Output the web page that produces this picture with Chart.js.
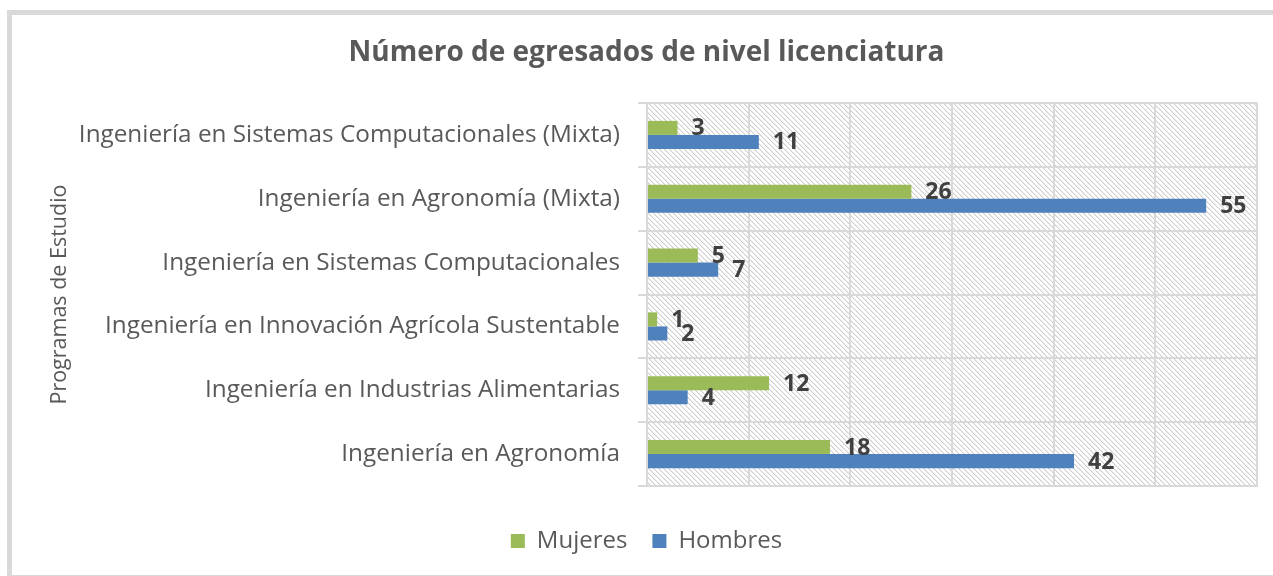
<!DOCTYPE html>
<html>
<head>
<meta charset="utf-8">
<script src="https://cdn.jsdelivr.net/npm/chart.js@4"></script>
<style>
  html, body { margin: 0; padding: 0; background: #fff; overflow: hidden; }
  #frame { position: absolute; left: 7px; top: 10px; width: 1300px; height: 560px; border: 5px solid #d9d9d9; }
  #wrap { position: absolute; left: 0; top: 0; width: 1273px; height: 576px; }
</style>
</head>
<body>
<div id="frame"></div>
<div id="wrap"><canvas id="chart" width="1273" height="576"></canvas></div>
<script>
const programas = [
  "Ingeniería en Sistemas Computacionales (Mixta)",
  "Ingeniería en Agronomía (Mixta)",
  "Ingeniería en Sistemas Computacionales",
  "Ingeniería en Innovación Agrícola Sustentable",
  "Ingeniería en Industrias Alimentarias",
  "Ingeniería en Agronomía",
];
const mujeres = [3, 26, 5, 1, 12, 18];
const hombres = [11, 55, 7, 2, 4, 42];

const GRID = "#d9d9d9";
const FONT = "'Open Sans', 'Noto Sans', sans-serif";

// diagonal hatch for the plot area
function hatchPattern(ctx) {
  const tile = document.createElement("canvas");
  tile.width = 5;
  tile.height = 5;
  const t = tile.getContext("2d");
  t.fillStyle = "#ffffff";
  t.fillRect(0, 0, 5, 5);
  for (let i = 0; i < 5; i++) {
    t.fillStyle = "#cdcdcd";
    t.fillRect(i, i, 1, 1);
    t.fillStyle = "#ededed";
    t.fillRect((i + 1) % 5, i, 1, 1);
  }
  return ctx.createPattern(tile, "repeat");
}

const plotBackground = {
  id: "plotBackground",
  beforeDraw(chart) {
    const { ctx, chartArea: a } = chart;
    ctx.save();
    ctx.fillStyle = hatchPattern(ctx);
    ctx.fillRect(a.left, a.top, a.right - a.left, a.bottom - a.top);
    ctx.restore();
  },
};

const barLabels = {
  id: "barLabels",
  afterDatasetsDraw(chart) {
    const { ctx } = chart;
    ctx.save();
    ctx.fillStyle = "#404040";
    ctx.textAlign = "left";
    ctx.textBaseline = "middle";
    ctx.font = "bold 23px " + FONT;
    chart.data.datasets.forEach((ds, i) => {
      chart.getDatasetMeta(i).data.forEach((bar, j) => {
        ctx.fillText(String(ds.data[j]), bar.x + 14, bar.y + 1);
      });
    });
    ctx.restore();
  },
};

new Chart(document.getElementById("chart"), {
  type: "bar",
  data: {
    labels: programas,
    datasets: [
      { label: "Mujeres", data: mujeres, backgroundColor: "#9bbb59" },
      { label: "Hombres", data: hombres, backgroundColor: "#4f81bd" },
    ],
  },
  options: {
    indexAxis: "y",
    responsive: false,
    animation: false,
    events: [],
    datasets: { bar: { categoryPercentage: 0.44, barPercentage: 1 } },
    layout: { padding: { left: 36, right: 16, top: 0, bottom: 13 } },
    scales: {
      x: {
        min: 0,
        max: 60,
        ticks: { display: false, stepSize: 10 },
        grid: { color: GRID, lineWidth: 2, drawTicks: false },
        border: { color: GRID, width: 2 },
        afterFit: (s) => { s.height = 18; },
      },
      y: {
        ticks: { color: "#595959", font: { family: FONT, size: 24.3 }, padding: 18 },
        grid: { color: GRID, lineWidth: 2, tickLength: 9 },
        border: { color: GRID, width: 2 },
        title: {
          display: true,
          text: "Programas de Estudio",
          color: "#595959",
          font: { family: FONT, size: 21.5 },
          padding: { top: 11, bottom: 0 },
        },
        afterFit: (s) => { s.width = 611; },
      },
    },
    plugins: {
      title: {
        display: true,
        text: "Número de egresados de nivel licenciatura",
        color: "#595959",
        font: { family: FONT, size: 28, weight: "bold" },
        padding: { top: 36, bottom: 33.4 },
      },
      legend: {
        position: "bottom",
        labels: {
          color: "#595959",
          font: { family: FONT, size: 24 },
          boxWidth: 14,
          boxHeight: 14,
          padding: 25,
        },
      },
      tooltip: { enabled: false },
    },
  },
  plugins: [plotBackground, barLabels],
});
</script>
</body>
</html>
